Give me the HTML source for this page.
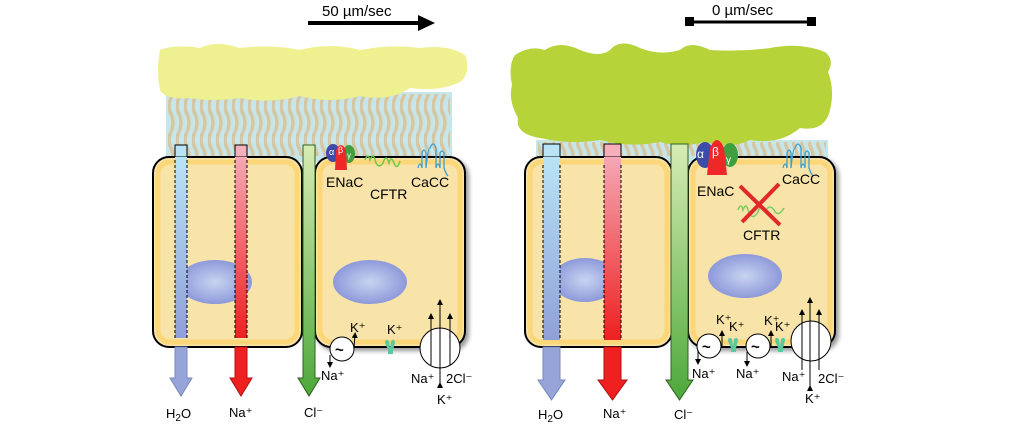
<!DOCTYPE html>
<html><head><meta charset="utf-8"><style>
html,body{margin:0;padding:0;background:#fff;}
svg{display:block;font-family:"Liberation Sans",sans-serif;}
</style></head><body>
<svg width="1024" height="436" viewBox="0 0 1024 436" xmlns="http://www.w3.org/2000/svg">
<defs>
<linearGradient id="gB" x1="0" y1="0" x2="0" y2="1"><stop offset="0" stop-color="#b8e4f6"/><stop offset="1" stop-color="#8fa0d8"/></linearGradient>
<linearGradient id="gR" x1="0" y1="0" x2="0" y2="1"><stop offset="0" stop-color="#f5a8b4"/><stop offset="1" stop-color="#ee2020"/></linearGradient>
<linearGradient id="gG" x1="0" y1="0" x2="0" y2="1"><stop offset="0" stop-color="#d8ecb4"/><stop offset="1" stop-color="#4ca83a"/></linearGradient>
<radialGradient id="gN" cx="0.5" cy="0.5" r="0.55"><stop offset="0" stop-color="#c8d4f0"/><stop offset="1" stop-color="#8894d8"/></radialGradient>
<filter id="sh"><feDropShadow dx="3" dy="3" stdDeviation="2" flood-color="#000" flood-opacity="0.4"/></filter>
<pattern id="cil" width="8" height="66" patternUnits="userSpaceOnUse">
<path d="M3 0 q-4 8 0 16 q4 8 0 16 q-4 8 0 16 q4 8 0 18" stroke="#d6c6a2" stroke-width="3.5" fill="none"/>
</pattern>
<marker id="ah" markerWidth="6" markerHeight="6" refX="3" refY="3" orient="auto"><path d="M0,0 L6,3 L0,6z" fill="#000"/></marker>
</defs>

<!-- ===== LEFT PANEL ===== -->
<text x="322" y="16" font-size="15">50 µm/sec</text>
<line x1="308" y1="23" x2="420" y2="23" stroke="#000" stroke-width="4"/>
<path d="M418 15 L435 23 L418 31z" fill="#000"/>

<rect x="166" y="92" width="286" height="70" fill="#c6e6ea"/>
<rect x="168" y="94" width="282" height="62" fill="url(#cil)"/>
<path d="M160 50 Q175 44 200 48 Q215 40 240 48 Q270 44 300 50 Q330 42 360 50 Q390 44 420 48 Q450 44 466 56 Q470 75 460 82 Q440 92 410 88 Q390 102 360 96 Q330 104 300 96 Q270 104 240 98 Q210 102 190 98 Q165 100 160 90 Q156 70 160 50z" fill="#eff090"/>

<rect x="153" y="157" width="149" height="190" rx="16" fill="#f8e3a8" stroke="#000" stroke-width="2"/>
<rect x="158" y="162" width="139" height="180" rx="12" fill="none" stroke="#fcd779" stroke-width="5"/>
<ellipse cx="215" cy="282" rx="37" ry="22" fill="url(#gN)"/>
<rect x="315" y="157" width="150" height="190" rx="16" fill="#f8e3a8" stroke="#000" stroke-width="2" filter="url(#sh)"/>
<rect x="320" y="162" width="140" height="180" rx="12" fill="none" stroke="#fcd779" stroke-width="5"/>
<ellipse cx="370" cy="282" rx="37" ry="22" fill="url(#gN)"/>

<rect x="175" y="145" width="12" height="12" fill="#b8e4f6" stroke="#000" stroke-width="1"/>
<rect x="175" y="157" width="12" height="181" fill="url(#gB)"/>
<line x1="175" y1="160" x2="175" y2="338" stroke="#000" stroke-dasharray="3,2"/>
<line x1="187" y1="160" x2="187" y2="338" stroke="#000" stroke-dasharray="3,2"/>
<path d="M175 347 L187 347 L187 378 L192 378 L181 396 L170 378 L175 378z" fill="#96a4d8" stroke="#7888c0"/>
<rect x="235" y="145" width="12" height="12" fill="#f5b0bc" stroke="#000" stroke-width="1"/>
<rect x="235" y="157" width="12" height="181" fill="url(#gR)"/>
<line x1="235" y1="160" x2="235" y2="338" stroke="#000" stroke-dasharray="3,2"/>
<line x1="247" y1="160" x2="247" y2="338" stroke="#000" stroke-dasharray="3,2"/>
<path d="M235 347 L247 347 L247 378 L252 378 L241 396 L230 378 L235 378z" fill="#ee2020" stroke="#b01010"/>
<path d="M303 145 L315 145 L315 378 L320 378 L309 396 L298 378 L303 378z" fill="url(#gG)" stroke="#306020"/>

<ellipse cx="333" cy="153" rx="7" ry="9" fill="#3c4ca8"/>
<ellipse cx="349" cy="154" rx="6" ry="9" fill="#40a040"/>
<path d="M335 170 L336 150 Q341 140 346 150 L347 170z" fill="#ee2828"/>
<text x="329" y="155" font-size="9" fill="#fff">α</text>
<text x="338" y="153" font-size="9" fill="#fff">β</text>
<text x="347" y="158" font-size="8" fill="#fff">γ</text>
<text x="326" y="187" font-size="14">ENaC</text>
<path d="M365 160 q3 -8 5 0 q3 -8 5 0 q3 10 8 3 q3 -10 6 0 q2 -8 5 0 q3 8 6 -2" stroke="#6ac84c" stroke-width="1.5" fill="none"/>
<text x="370" y="199" font-size="14">CFTR</text>
<path d="M418 168 q2 -8 4 0 v-15 q2 -6 4 0 v15 q2 -20 4 -20 q3 -8 6 0 v20 q2 -8 4 0 v-15 q2 -4 4 0 v15 q2 6 4 8" stroke="#3ca0d0" stroke-width="1.3" fill="none"/>
<text x="411" y="187" font-size="14">CaCC</text>

<circle cx="342" cy="349" r="12" fill="#fff" stroke="#000"/>
<text x="335" y="355" font-size="15" font-weight="bold">~</text>
<line x1="354" y1="348" x2="355" y2="335" stroke="#000" marker-end="url(#ah)"/>
<line x1="330" y1="355" x2="330" y2="365" stroke="#000" marker-end="url(#ah)"/>
<text x="350" y="332" font-size="13">K⁺</text>
<text x="321" y="380" font-size="13">Na⁺</text>
<text x="387" y="334" font-size="13">K⁺</text>
<path d="M385 343 q0 -5 4 -2 l1 7 l1 -7 q4 -3 4 2 l-2 7 v4 h-5 v-4z" fill="#5cc8a0"/>
<circle cx="440" cy="348" r="20" fill="#fff" stroke="#000"/>
<line x1="431" y1="365" x2="431" y2="316" stroke="#000" marker-end="url(#ah)"/>
<line x1="440" y1="385" x2="440" y2="302" stroke="#000" marker-start="url(#ah)" marker-end="url(#ah)"/>
<line x1="450" y1="365" x2="450" y2="316" stroke="#000" marker-end="url(#ah)"/>
<text x="411" y="383" font-size="13">Na⁺</text>
<text x="446" y="383" font-size="13">2Cl⁻</text>
<text x="437" y="404" font-size="13">K⁺</text>

<text x="166" y="418" font-size="13">H<tspan font-size="10" dy="3">2</tspan><tspan dy="-3">O</tspan></text>
<text x="229" y="417" font-size="13">Na⁺</text>
<text x="304" y="417" font-size="13">Cl⁻</text>

<!-- ===== RIGHT PANEL ===== -->
<text x="712" y="15" font-size="15">0 µm/sec</text>
<line x1="690" y1="22" x2="812" y2="22" stroke="#000" stroke-width="3"/>
<rect x="685" y="17" width="9" height="9" fill="#000"/>
<rect x="807" y="17" width="9" height="9" fill="#000"/>

<rect x="536" y="140" width="292" height="22" fill="#c6e6ea"/>
<rect x="538" y="142" width="288" height="14" fill="url(#cil)"/>
<path d="M515 55 Q530 45 545 50 Q560 40 580 50 Q600 58 610 50 Q620 38 640 48 Q660 56 680 50 Q690 40 710 50 Q740 52 770 48 Q800 42 825 52 Q835 60 828 72 Q835 90 830 110 Q825 132 800 128 Q780 145 750 140 Q730 150 705 142 Q680 148 660 142 Q630 148 600 140 Q570 145 540 138 Q515 134 518 118 Q508 100 512 85 Q508 65 515 55z" fill="#b6d43a"/>

<rect x="525" y="157" width="147" height="190" rx="16" fill="#f8e3a8" stroke="#000" stroke-width="2"/>
<rect x="530" y="162" width="137" height="180" rx="12" fill="none" stroke="#fcd779" stroke-width="5"/>
<ellipse cx="585" cy="280" rx="33" ry="22" fill="url(#gN)"/>
<rect x="688" y="157" width="147" height="190" rx="16" fill="#f8e3a8" stroke="#000" stroke-width="2" filter="url(#sh)"/>
<rect x="693" y="162" width="137" height="180" rx="12" fill="none" stroke="#fcd779" stroke-width="5"/>
<ellipse cx="745" cy="276" rx="37" ry="22" fill="url(#gN)"/>

<rect x="543" y="144" width="17" height="13" fill="#b8e4f6" stroke="#000" stroke-width="1"/>
<rect x="543" y="157" width="17" height="183" fill="url(#gB)"/>
<line x1="543" y1="165" x2="543" y2="340" stroke="#000" stroke-dasharray="3,2"/>
<line x1="560" y1="165" x2="560" y2="340" stroke="#000" stroke-dasharray="3,2"/>
<path d="M543 347 L560 347 L560 380 L565 380 L551.5 400 L538 380 L543 380z" fill="#96a4d8" stroke="#7888c0"/>
<rect x="604" y="144" width="17" height="13" fill="#f5b0bc" stroke="#000" stroke-width="1"/>
<rect x="604" y="157" width="17" height="183" fill="url(#gR)"/>
<line x1="604" y1="165" x2="604" y2="340" stroke="#000" stroke-dasharray="3,2"/>
<line x1="621" y1="165" x2="621" y2="340" stroke="#000" stroke-dasharray="3,2"/>
<path d="M604 347 L621 347 L621 380 L627 380 L612.5 400 L598 380 L604 380z" fill="#ee2020" stroke="#b01010"/>
<path d="M671 144 L688 144 L688 380 L693 380 L679.5 400 L666 380 L671 380z" fill="url(#gG)" stroke="#306020"/>

<ellipse cx="705" cy="155" rx="9" ry="13" fill="#3c4ca8"/>
<ellipse cx="730" cy="155" rx="8" ry="12" fill="#40a040"/>
<path d="M707 175 L710 148 Q717 132 724 148 L727 175z" fill="#ee2828"/>
<text x="697" y="158" font-size="12" fill="#fff">α</text>
<text x="712" y="156" font-size="12" fill="#fff">β</text>
<text x="726" y="163" font-size="10" fill="#fff">γ</text>
<text x="697" y="196" font-size="14">ENaC</text>
<path d="M783 168 q2 -8 4 0 v-15 q2 -6 4 0 v15 q2 -20 4 -20 q3 -8 6 0 v20 q2 -8 4 0 v-15 q2 -4 4 0 v15 q2 6 4 8" stroke="#3ca0d0" stroke-width="1.3" fill="none"/>
<text x="782" y="184" font-size="14">CaCC</text>
<path d="M738 210 q3 -8 5 0 q3 -8 5 0 q4 12 10 2 q3 -10 8 -2 q4 -6 8 0 q4 8 10 -2" stroke="#7acc60" stroke-width="1.5" fill="none"/>
<line x1="740" y1="186" x2="780" y2="225" stroke="#e02828" stroke-width="4"/>
<line x1="779" y1="184" x2="742" y2="222" stroke="#e02828" stroke-width="4"/>
<text x="743" y="240" font-size="14">CFTR</text>

<circle cx="709" cy="346" r="12" fill="#fff" stroke="#000"/>
<text x="702" y="352" font-size="15" font-weight="bold">~</text>
<circle cx="758" cy="346" r="12" fill="#fff" stroke="#000"/>
<text x="751" y="352" font-size="15" font-weight="bold">~</text>
<line x1="722" y1="346" x2="722" y2="333" stroke="#000" marker-end="url(#ah)"/>
<line x1="698" y1="350" x2="698" y2="362" stroke="#000" marker-end="url(#ah)"/>
<line x1="771" y1="346" x2="771" y2="333" stroke="#000" marker-end="url(#ah)"/>
<line x1="747" y1="352" x2="747" y2="364" stroke="#000" marker-end="url(#ah)"/>
<text x="716" y="324" font-size="13">K⁺</text>
<text x="729" y="331" font-size="13">K⁺</text>
<text x="764" y="325" font-size="13">K⁺</text>
<text x="775" y="331" font-size="13">K⁺</text>
<path d="M728 341 q0 -5 4 -2 l1 7 l1 -7 q4 -3 4 2 l-2 7 v4 h-5 v-4z" fill="#5cc8a0"/>
<path d="M775 341 q0 -5 4 -2 l1 7 l1 -7 q4 -3 4 2 l-2 7 v4 h-5 v-4z" fill="#5cc8a0"/>
<text x="692" y="378" font-size="13">Na⁺</text>
<text x="736" y="378" font-size="13">Na⁺</text>
<circle cx="811" cy="341" r="20" fill="#fff" stroke="#000"/>
<line x1="802" y1="370" x2="802" y2="312" stroke="#000" marker-end="url(#ah)"/>
<line x1="810" y1="388" x2="810" y2="300" stroke="#000" marker-start="url(#ah)" marker-end="url(#ah)"/>
<line x1="819" y1="370" x2="819" y2="312" stroke="#000" marker-end="url(#ah)"/>
<text x="782" y="381" font-size="13">Na⁺</text>
<text x="818" y="383" font-size="13">2Cl⁻</text>
<text x="805" y="403" font-size="13">K⁺</text>

<text x="538" y="419" font-size="13">H<tspan font-size="10" dy="3">2</tspan><tspan dy="-3">O</tspan></text>
<text x="603" y="418" font-size="13">Na⁺</text>
<text x="674" y="419" font-size="13">Cl⁻</text>
</svg>
</body></html>
